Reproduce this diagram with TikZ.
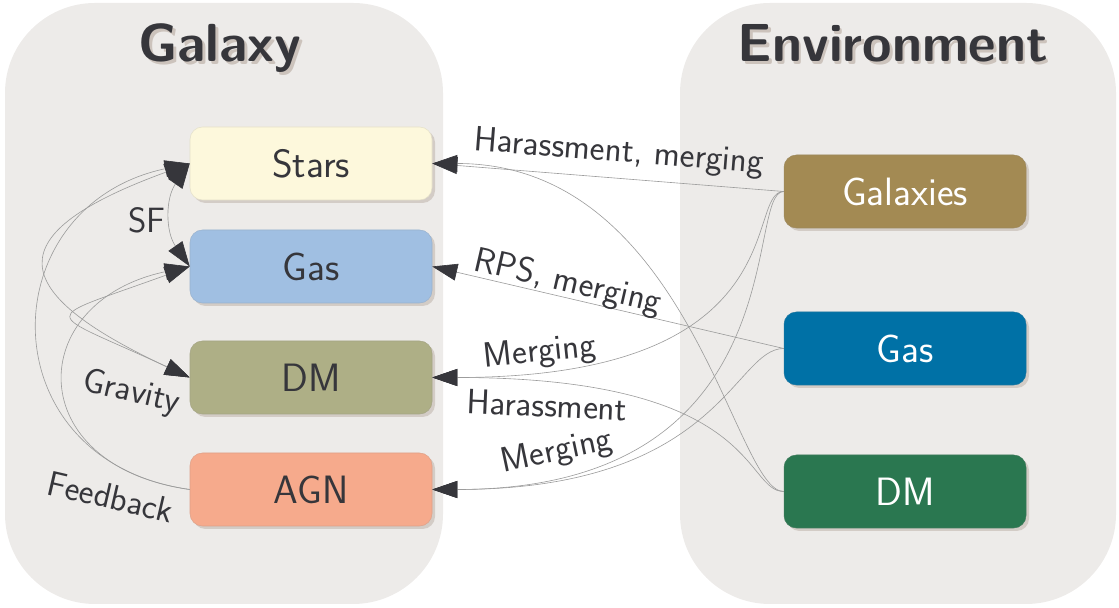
\documentclass[tikz,border=0pt]{standalone}
\usepackage{fontspec}
\usepackage{tikz}
\usetikzlibrary{arrows.meta,shadows}

\definecolor{panelgray}{HTML}{EDEBE9}
\definecolor{textdark}{HTML}{36363B}
\definecolor{titleshadow}{HTML}{CCC3BC}
\definecolor{boxshadow}{HTML}{D3CCC6}
\definecolor{linegray}{HTML}{9C9C9C}
\definecolor{starsfill}{HTML}{FDF8DC}
\definecolor{gasfill}{HTML}{A0BFE2}
\definecolor{dmfill}{HTML}{AEAF86}
\definecolor{agnfill}{HTML}{F6AA8C}
\definecolor{galfill}{HTML}{A38A53}
\definecolor{envgasfill}{HTML}{0071A6}
\definecolor{envdmfill}{HTML}{2A7750}

\begin{document}
\begin{tikzpicture}[font=\sffamily,
    >={Triangle[length=5mm,width=3.4mm,color=textdark]},
    box/.style={rounded corners=0.25cm,minimum width=4.84cm,minimum height=1.46cm,inner sep=0pt,
        draw=#1!80!gray,fill=#1,line width=0.3pt,
        drop shadow={shadow xshift=0.06cm,shadow yshift=-0.06cm,fill=boxshadow,opacity=1},
        font=\sffamily\fontsize{22.5}{26}\selectfont},
    lbl/.style={text=textdark,inner sep=0pt,font=\sffamily\fontsize{20}{24}\selectfont},
    paneltitle/.style={font=\sffamily\bfseries\fontsize{30.5}{34}\selectfont,anchor=base}]
\useasboundingbox (0,0) rectangle (22.38,12.16);

% panels
\fill[panelgray,rounded corners=1.8cm] (0.1,0.08) rectangle (8.86,12.1);
\fill[panelgray,rounded corners=1.8cm] (13.6,0.08) rectangle (22.32,12.1);
\node[paneltitle,text=titleshadow] (galshadow) at (4.45,10.87) {Galaxy};
\node[paneltitle,text=textdark] (galtitle) at (4.4,10.92) {Galaxy};
\node[paneltitle,text=titleshadow] (envshadow) at (17.91,10.87) {Environment};
\node[paneltitle,text=textdark] (envtitle) at (17.86,10.92) {Environment};

\begin{scope}[every node/.style={text=textdark}]
    \node[box=starsfill] (Stars) at (6.22,8.89) {Stars};
    \node[box=gasfill] (Gas) at (6.22,6.83) {Gas};
    \node[box=dmfill] (DM) at (6.22,4.61) {DM};
    \node[box=agnfill] (AGN) at (6.22,2.37) {AGN};
\end{scope}
\begin{scope}[every node/.style={text=white}]
    \node[box=galfill] (Galaxies) at (18.1,8.33) {Galaxies};
    \node[box=envgasfill] (GasE) at (18.1,5.19) {Gas};
    \node[box=envdmfill] (DME) at (18.1,2.33) {DM};
\end{scope}

\begin{scope}[every edge/.style={draw=linegray,line width=0.35pt}]
    % inside the galaxy
    \draw (Stars.west) edge[<->,out=235,in=125,distance=0.85cm] (Gas.west);
    \draw (DM.west) edge[<->,out=155,in=200,distance=4.1cm] (Stars.west);
    \draw (DM.west) edge[<->,out=155,in=200,distance=3.3cm] (Gas.west);
    \draw (AGN.west) edge[->,out=172,in=192,distance=4.1cm] (Stars.west);
    \draw (AGN.west) edge[->,out=172,in=192,distance=3.4cm] (Gas.west);
    % from the environment
    \draw (Galaxies.west) edge[->] (Stars.east);
    \draw (GasE.west) edge[->] (Gas.east);
    \draw (Galaxies.west) edge[->,out=180,in=0,out distance=0.8cm,in distance=7.36cm] (DM.east);
    \draw (Galaxies.west) edge[->,out=180,in=0,out distance=0.8cm,in distance=7.36cm] (AGN.east);
    \draw (GasE.west) edge[->,out=180,in=0,out distance=1cm,in distance=5.76cm] (AGN.east);
    \draw (DME.west) edge[->,out=180,in=0,out distance=0.8cm,in distance=6.56cm] (DM.east);
    \draw (DME.west) edge[->,out=180,in=0,out distance=1cm,in distance=5.16cm] (Stars.east);
\end{scope}

\begin{scope}[every node/.style={lbl}]
    \node (sfLabel) at (2.94,7.76) {SF};
    \node[rotate=-13] (gravityLabel) at (2.62,4.3) {Gravity};
    \node[rotate=-13] (feedbackLabel) at (2.22,2.22) {Feedback};
    \node[rotate=-4.5] (harmergLabel) at (12.38,9.1) {Harassment, merging};
    \node[rotate=-13] (rpsLabel) at (11.36,6.5) {RPS, merging};
    \node[rotate=6] (mergdmLabel) at (10.8,5.1) {Merging};
    \node[rotate=-2.5] (harLabel) at (10.94,4.06) {Harassment};
    \node[rotate=12] (mergagnLabel) at (11.14,3.12) {Merging};
\end{scope}
\end{tikzpicture}
\end{document}
